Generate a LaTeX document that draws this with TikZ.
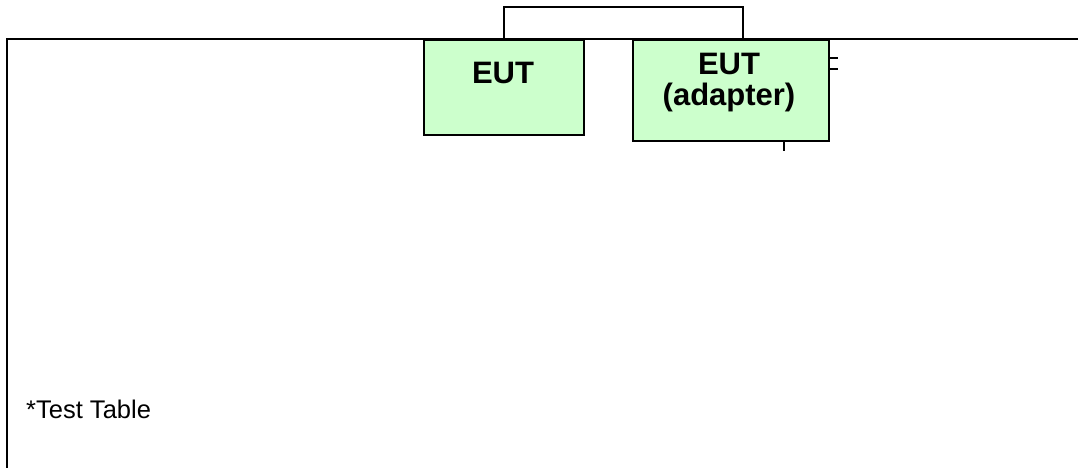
\documentclass[tikz,border=0pt]{standalone}
\usepackage{fontspec}
\setmainfont{Liberation Sans}
\begin{document}
\begin{tikzpicture}[x=1pt,y=-1pt,
  frame/.style={line width=2pt},
  eutbox/.style={draw, line width=2pt, fill=eutgreen, inner sep=0pt, anchor=north west},
  eutlabel/.style={font=\fontsize{31}{32}\selectfont\bfseries, inner sep=0pt, anchor=base, align=center},
  wire/.style={line width=1.6pt}
]
\definecolor{eutgreen}{HTML}{CCFFCC}
\useasboundingbox (0,0) rectangle (1078,467);
\begin{scope}
\clip (0,0) rectangle (1078,467);
% table outline
\draw[frame] (7,480) -- (7,39) -- (1090,39);
\end{scope}
% equipment under test
\node[eutbox, minimum width=160pt, minimum height=95pt] (eut) at (423,39) {};
\node[eutbox, minimum width=196pt, minimum height=101pt] (adapter) at (632,39) {};
\node[eutlabel] (eutText) at (503,83) {EUT};
\node[eutlabel] (adText) at (729,74.5) {EUT};
\node[eutlabel] (adText2) at (729,105) {(adapter)};
% cable between the units
\coordinate (plug) at (743,39);
\draw[wire] (eut.north) -- ++(0,-32) -| (plug);
% leads leaving the adapter
\coordinate (lead1) at (838,58);
\coordinate (lead2) at (838,69);
\coordinate (lead3) at (784,151);
\draw[wire] (adapter.east |- lead1) -- (lead1);
\draw[wire] (adapter.east |- lead2) -- (lead2);
\draw[wire] (adapter.south -| lead3) -- (lead3);
% note
\node[font=\fontsize{25.5}{27}\selectfont, anchor=base west, inner sep=0pt] (note) at (26,418) {*Test Table};
\end{tikzpicture}
\end{document}
